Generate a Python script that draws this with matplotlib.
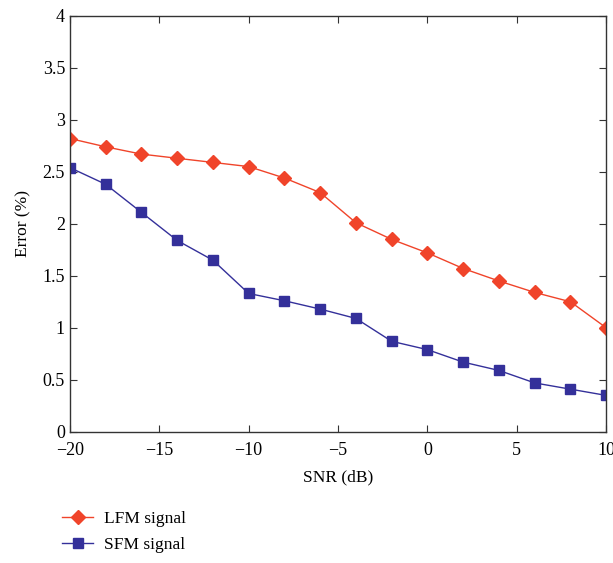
import matplotlib
matplotlib.use("Agg")
import matplotlib.pyplot as plt

# SNR values (dB)
snr = [-20, -18, -16, -14, -12, -10, -8, -6, -4, -2, 0, 2, 4, 6, 8, 10]

# Error (%) for each signal type
lfm_error = [2.82, 2.74, 2.67, 2.63, 2.59, 2.55, 2.44, 2.30, 2.01, 1.85, 1.72, 1.57, 1.45, 1.34, 1.25, 1.00]
sfm_error = [2.54, 2.38, 2.11, 1.84, 1.65, 1.33, 1.26, 1.18, 1.09, 0.87, 0.79, 0.67, 0.59, 0.47, 0.41, 0.35]

xticks = [-20, -15, -10, -5, 0, 5, 10]
xtick_labels = ["\u221220", "\u221215", "\u221210", "\u22125", "0", "5", "10"]
yticks = [0, 0.5, 1, 1.5, 2, 2.5, 3, 3.5, 4]
ytick_labels = ["0", "0.5", "1", "1.5", "2", "2.5", "3", "3.5", "4"]

plt.rcParams['font.family'] = ['Liberation Serif', 'DejaVu Serif']

fig = plt.figure(figsize=(6.13, 5.63), dpi=100)
ax = fig.add_axes([0.114, 0.233, 0.875, 0.739])

ax.plot(snr, lfm_error, color='#F0442A', marker='D', markersize=7.5, linewidth=1.0, label='LFM signal')
ax.plot(snr, sfm_error, color='#34309A', marker='s', markersize=6.5, linewidth=1.0, label='SFM signal')

ax.set_xlim(-20, 10)
ax.set_ylim(0, 4)
ax.set_xticks(xticks)
ax.set_xticklabels(xtick_labels)
ax.set_yticks(yticks)
ax.set_yticklabels(ytick_labels)
ax.tick_params(direction='in', top=True, right=True, labelsize=13, length=5, width=0.8, color='#333333')
ax.tick_params(axis='x', pad=7)
for sp in ax.spines.values():
    sp.set_color('#333333')
    sp.set_linewidth(1.0)

ax.set_xlabel("SNR (dB)", fontsize=12.5, labelpad=8)
ax.set_ylabel("Error (%)", fontsize=12.5, labelpad=8)

fig.legend(loc='upper left', bbox_to_anchor=(0.101, 0.092), frameon=False, fontsize=12.5,
           borderpad=0, borderaxespad=0, handlelength=1.8, labelspacing=0.55, handletextpad=0.6)

fig.savefig("out.png", dpi=100)
